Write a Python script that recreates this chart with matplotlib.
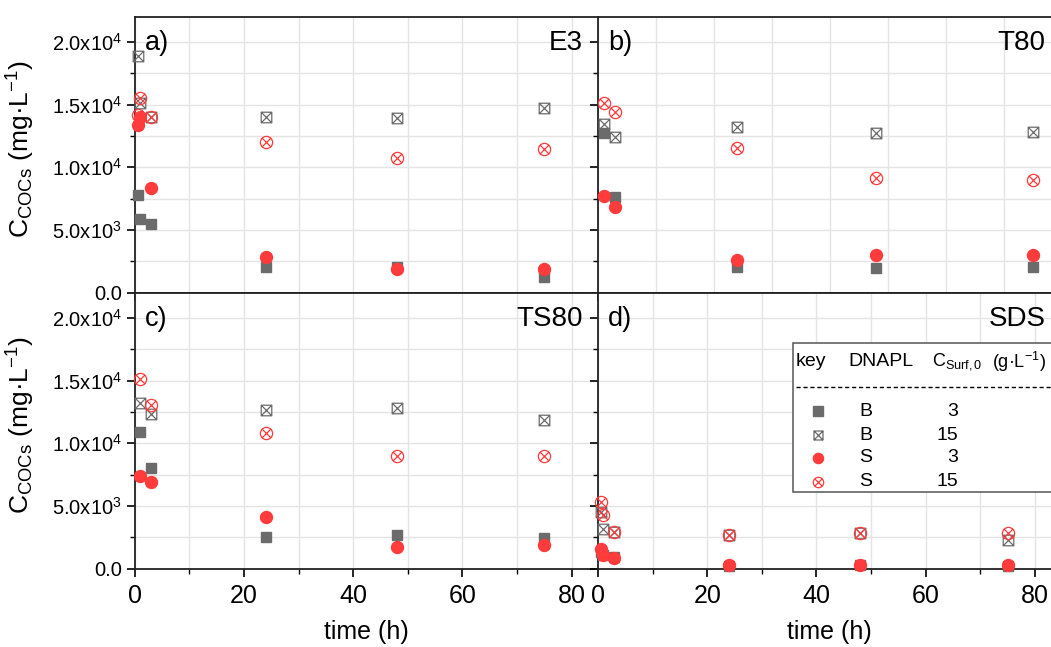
import numpy as np
import matplotlib
matplotlib.use('agg')
from matplotlib import pyplot as plt
from matplotlib.path import Path
from matplotlib.patches import Rectangle
from matplotlib.lines import Line2D
from matplotlib.ticker import MultipleLocator, FuncFormatter

plt.rcParams['font.family'] = ['Liberation Sans', 'DejaVu Sans']
plt.rcParams['mathtext.fontset'] = 'custom'
plt.rcParams['mathtext.rm'] = 'Liberation Sans'
plt.rcParams['mathtext.it'] = 'Liberation Sans'
plt.rcParams['mathtext.default'] = 'regular'

# sampling times (h) and COC concentrations (mg/L) per surfactant
panel_names = ['E3', 'T80', 'TS80', 'SDS']
panel_tags = ['a)', 'b)', 'c)', 'd)']
panel_xmax = [84.7, 79.8, 84.7, 84.7]

e3_t = [0.66, 1, 3, 24, 48, 75]
e3_b3 = [7790, 5840, 5450, 2070, 2070, 1280]
e3_b15 = [18870, 15150, 13990, 13990, 13960, 14700]
e3_s3 = [13370, 13990, 8330, 2870, 1870, 1910]
e3_s15 = [14200, 15500, 13990, 12040, 10770, 11430]

t80_t = [1, 3, 24, 48, 75]
t80_b3 = [12710, 7610, 2070, 1990, 2070]
t80_b15 = [13430, 12390, 13190, 12710, 12790]
t80_s3 = [7710, 6860, 2610, 3010, 3010]
t80_s15 = [15150, 14430, 11510, 9120, 8990]

ts80_t = [1, 3, 24, 48, 75]
ts80_b3 = [10860, 8040, 2510, 2670, 2430]
ts80_b15 = [13200, 12320, 12640, 12800, 11840]
ts80_s3 = [7400, 6920, 4110, 1710, 1870]
ts80_s15 = [15090, 13040, 10810, 8970, 8970]

sds_t = [0.6, 1, 3, 24, 48, 75]
sds_b3 = [1300, 1100, 950, 250, 280, 250]
sds_b15 = [4530, 3200, 2900, 2700, 2830, 2270]
sds_s3 = [1610, 1080, 890, 280, 300, 280]
sds_s15 = [5330, 4270, 2940, 2700, 2830, 2830]

panel_data = [
    (e3_t, e3_b3, e3_b15, e3_s3, e3_s15),
    (t80_t, t80_b3, t80_b15, t80_s3, t80_s15),
    (ts80_t, ts80_b3, ts80_b15, ts80_s3, ts80_s15),
    (sds_t, sds_b3, sds_b15, sds_s3, sds_s15),
]

legend_key = ['B', 'B', 'S', 'S']
legend_csurf = ['3', '15', '3', '15']

gray = '#6b6b6b'
red = '#ff3b3b'

# crossed markers: square / circle with both diagonals
diag = Path([(-1, -1), (1, 1), (-1, 1), (1, -1)],
            [Path.MOVETO, Path.LINETO, Path.MOVETO, Path.LINETO])
sq = Path([(-1, -1), (1, -1), (1, 1), (-1, 1), (-1, -1)],
          [Path.MOVETO, Path.LINETO, Path.LINETO, Path.LINETO, Path.CLOSEPOLY])
crossed_square = Path.make_compound_path(sq, diag)
r = 1 / np.sqrt(2)
diag_c = Path([(-r, -r), (r, r), (-r, r), (r, -r)],
              [Path.MOVETO, Path.LINETO, Path.MOVETO, Path.LINETO])
crossed_circle = Path.make_compound_path(Path.unit_circle(), diag_c)

styles = [
    dict(marker='s', ms=7.7, color=gray, mec=gray, ls='none'),
    dict(marker=crossed_square, ms=7.6, color=gray, mfc='none', mew=0.9, ls='none'),
    dict(marker='o', ms=8.6, color=red, mec=red, ls='none'),
    dict(marker=crossed_circle, ms=8.8, color=red, mfc='none', mew=0.9, ls='none'),
]


def y_fmt(v, pos):
    if v <= 0:
        return '0.0' if v == 0 else ''
    e = int(np.floor(np.log10(v)))
    return f'{v / 10**e:.1f}x10$^{{{e}}}$'


W, H = 1051, 647
fig = plt.figure(figsize=(W / 100, H / 100), dpi=100)

# axes boxes in pixels: left, top
ax_w, ax_h = 462.6, 276.0
boxes = [(134.7, 16.7), (598.0, 16.7), (134.7, 292.7), (598.0, 292.7)]
axes = []
for i, (x0, y0) in enumerate(boxes):
    ax = fig.add_axes([x0 / W, 1 - (y0 + ax_h) / H, ax_w / W, ax_h / H])
    axes.append(ax)
    t, b3, b15, s3, s15 = panel_data[i]
    for vals, st in zip([b3, b15, s3, s15], styles):
        ax.plot(t[:len(vals)], vals, clip_on=False, zorder=3, **st)
    ax.set_xlim(0, panel_xmax[i])
    ax.set_ylim(0, 22000)
    ax.xaxis.set_major_locator(MultipleLocator(20))
    ax.xaxis.set_minor_locator(MultipleLocator(10))
    ax.yaxis.set_major_locator(MultipleLocator(5000))
    ax.yaxis.set_minor_locator(MultipleLocator(2500))
    ax.grid(True, which='both', color='#e4e4e4', lw=1.0, zorder=0)
    ax.set_axisbelow(True)
    for sp in ax.spines.values():
        sp.set_linewidth(1.3)
        sp.set_color('#222222')
    if i in (0, 2):
        ax.spines['right'].set_visible(False)
    ax.tick_params(which='major', direction='out', length=6, width=1.2)
    ax.tick_params(which='minor', direction='out', length=3.5, width=1.0)
    ax.tick_params(axis='x', labelsize=18, pad=5)
    ax.tick_params(axis='y', labelsize=14.5, pad=3)
    ax.yaxis.set_major_formatter(FuncFormatter(y_fmt))
    if i in (1, 3):
        ax.tick_params(axis='y', labelleft=False)
    else:
        ax.set_ylabel('C$_{COCs}$ (mg·L$^{-1}$)', fontsize=19)
        ax.yaxis.set_label_coords(-0.212, 0.52)
    if i in (0, 1):
        ax.tick_params(axis='x', labelbottom=False)
    else:
        ax.set_xlabel('time (h)', fontsize=18, labelpad=9)
    ax.text(0.022, 0.905, panel_tags[i], transform=ax.transAxes,
            fontsize=19.5, ha='left', va='center')
    ax.text(0.968, 0.905, panel_names[i], transform=ax.transAxes,
            fontsize=20, ha='right', va='center')


# key box in the SDS panel, placed in figure pixels
def fx(px):
    return px / W


def fy(py):
    return 1 - py / H


fig.patches.append(Rectangle((fx(792.7), fy(492.3)), fx(1100 - 792.7), (492.3 - 343.3) / H,
                             transform=fig.transFigure, facecolor='white',
                             edgecolor='#555555', lw=1.1, zorder=5))
hdr_y = fy(362)
fs = 14
fig.text(fx(796), hdr_y, 'key', fontsize=fs, ha='left', va='center', zorder=6)
fig.text(fx(848), hdr_y, 'DNAPL', fontsize=fs, ha='left', va='center', zorder=6)
fig.text(fx(932), hdr_y, 'C$_{Surf,0}$', fontsize=13, ha='left', va='center', zorder=6)
fig.text(fx(1046), hdr_y, '(g·L$^{-1}$)', fontsize=13, ha='right', va='center', zorder=6)
fig.lines.append(Line2D([fx(796), fx(1051)], [fy(387), fy(387)], transform=fig.transFigure,
                        color='black', lw=1.0, ls=(0, (3, 2)), zorder=6))
row_y = [411, 435, 458, 482]
for k, st in enumerate(styles):
    s = dict(st)
    s['ms'] = s['ms'] * 0.85
    fig.lines.append(Line2D([fx(818)], [fy(row_y[k])], transform=fig.transFigure,
                            zorder=6, **s))
    fig.text(fx(866), fy(row_y[k]), legend_key[k], fontsize=fs, ha='center',
             va='center', zorder=6)
    fig.text(fx(958), fy(row_y[k]), legend_csurf[k], fontsize=fs, ha='right',
             va='center', zorder=6)

plt.savefig('out.png', dpi=100)
plt.close()
